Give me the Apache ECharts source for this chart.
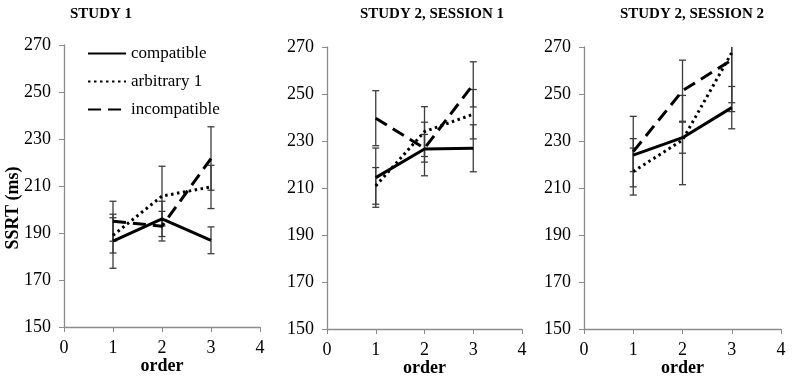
<!DOCTYPE html>
<html>
<head>
<meta charset="utf-8">
<script src="https://cdn.jsdelivr.net/npm/echarts@6/dist/echarts.min.js"></script>
<style>
  html, body { margin: 0; padding: 0; background: #fff; }
  #chart { width: 793px; height: 378px; }
</style>
</head>
<body>
<div id="chart"></div>
<script>
// data
const orders = [1, 2, 3];
const panelTitles = ['STUDY 1', 'STUDY 2, SESSION 1', 'STUDY 2, SESSION 2'];
const conditions = ['compatible', 'arbitrary 1', 'incompatible'];

// means per panel, per condition
const compatibleMeans = [[186.5, 196, 186.9], [214.4, 226.6, 226.9], [224, 231.4, 244.2]];
const arbitraryMeans = [[189, 205.7, 209.6], [210.9, 234, 241.4], [217, 230.4, 267.6]];
const incompatibleMeans = [[195, 192.9, 221.7], [239.7, 226.9, 254.1], [225.5, 251.4, 264.5]];

// error (half-length of bars)
const compatibleErr = [[11.5, 7.5, 5.7], [12.6, 11.4, 10], [7, 6.6, 9]];
const arbitraryErr = [[7.5, 12.7, 9.2], [7.8, 10.6, 10.5], [10, 19, 21.3]];
const incompatibleErr = [[8.5, 6.3, 13.5], [11.7, 5.9, 9.6], [15, 13, 22]];

const yTicks = { min: 150, max: 270, interval: 20 };
const xTicks = { min: 0, max: 4, interval: 1 };

const FONT = 'Liberation Serif';
const axisGrey = '#8c8c8c';
const barGrey = '#3c3c3c';

const means = [compatibleMeans, arbitraryMeans, incompatibleMeans];
const errs = [compatibleErr, arbitraryErr, incompatibleErr];
const lineTypes = ['solid', [2.5, 3.5], [13, 7]];

const grids = [
  { left: 64, top: 45, width: 196, height: 282, outerBoundsMode: 'none' },
  { left: 327, top: 47, width: 195, height: 282, outerBoundsMode: 'none' },
  { left: 584, top: 47, width: 197, height: 282, outerBoundsMode: 'none' }
];
const titleX = [101, 432, 692];

const chart = echarts.init(document.getElementById('chart'));

const xAxes = grids.map((g, i) => ({
  type: 'value', gridIndex: i,
  min: xTicks.min, max: xTicks.max, interval: xTicks.interval,
  name: 'order', nameLocation: 'middle', nameGap: 30, nameMoveOverlap: false,
  nameTextStyle: { fontFamily: FONT, fontWeight: 'bold', fontSize: 18, color: '#000' },
  axisLine: { lineStyle: { color: axisGrey, width: 1.3 } },
  axisTick: { show: true, length: 5, lineStyle: { color: axisGrey } },
  axisLabel: { fontFamily: FONT, fontSize: 18, color: '#000', margin: 12 },
  splitLine: { show: false }
}));

const yAxes = grids.map((g, i) => ({
  type: 'value', gridIndex: i,
  min: yTicks.min, max: yTicks.max, interval: yTicks.interval,
  axisLine: { show: true, lineStyle: { color: axisGrey, width: 1.3 } },
  axisTick: { show: true, length: 5, lineStyle: { color: axisGrey } },
  axisLabel: { fontFamily: FONT, fontSize: 18, color: '#000', margin: 13 },
  splitLine: { show: false }
}));

function errorBarItem(params, api) {
  const x = api.value(0);
  const lo = api.value(1);
  const hi = api.value(2);
  const cs = params.coordSys;
  const pLo = api.coord([x, lo]);
  const pHi = api.coord([x, hi]);
  const top = Math.max(pHi[1], cs.y);
  const bottom = Math.min(pLo[1], cs.y + cs.height);
  const w = 3.5;
  const style = { stroke: barGrey, lineWidth: 1.3 };
  const children = [
    { type: 'line', shape: { x1: pLo[0], y1: top, x2: pLo[0], y2: bottom }, style }
  ];
  if (pHi[1] >= cs.y) {
    children.push({ type: 'line', shape: { x1: pHi[0] - w, y1: pHi[1], x2: pHi[0] + w, y2: pHi[1] }, style });
  }
  children.push({ type: 'line', shape: { x1: pLo[0] - w, y1: pLo[1], x2: pLo[0] + w, y2: pLo[1] }, style });
  return { type: 'group', children };
}

const series = [];
grids.forEach((g, p) => {
  conditions.forEach((name, c) => {
    series.push({
      type: 'custom',
      name: 'err ' + name,
      xAxisIndex: p, yAxisIndex: p,
      renderItem: errorBarItem,
      clip: true,
      z: 2,
      silent: true,
      data: orders.map((o, k) => [o, means[c][p][k] - errs[c][p][k], means[c][p][k] + errs[c][p][k]])
    });
  });
  conditions.forEach((name, c) => {
    series.push({
      type: 'line',
      name: name,
      xAxisIndex: p, yAxisIndex: p,
      symbol: 'none',
      z: 3,
      itemStyle: { color: 'rgba(0,0,0,0)', borderWidth: 0 },
      lineStyle: { color: '#000', width: 3, type: lineTypes[c], cap: 'butt' },
      data: orders.map((o, k) => [o, means[c][p][k]])
    });
  });
});

const option = {
  backgroundColor: '#fff',
  animation: false,
  grid: grids,
  xAxis: xAxes,
  yAxis: yAxes,
  legend: {
    data: conditions,
    orient: 'vertical',
    left: 82, top: 40,
    itemWidth: 38, itemHeight: 17, itemGap: 11,
    itemStyle: { color: 'rgba(0,0,0,0)', borderWidth: 0 },
    textStyle: { fontFamily: FONT, fontSize: 17, color: '#000' }
  },
  graphic: [
    ...panelTitles.map((t, i) => ({
      type: 'text', x: titleX[i], y: 14,
      style: { text: t, fontFamily: FONT, fontWeight: 'bold', fontSize: 15, fill: '#000', textAlign: 'center', textVerticalAlign: 'middle' }
    })),
    {
      type: 'text', x: 13, y: 208, rotation: Math.PI / 2,
      style: { text: 'SSRT (ms)', fontFamily: FONT, fontWeight: 'bold', fontSize: 18, fill: '#000', textAlign: 'center', textVerticalAlign: 'middle' }
    }
  ],
  series
};

chart.setOption(option);
</script>
</body>
</html>
